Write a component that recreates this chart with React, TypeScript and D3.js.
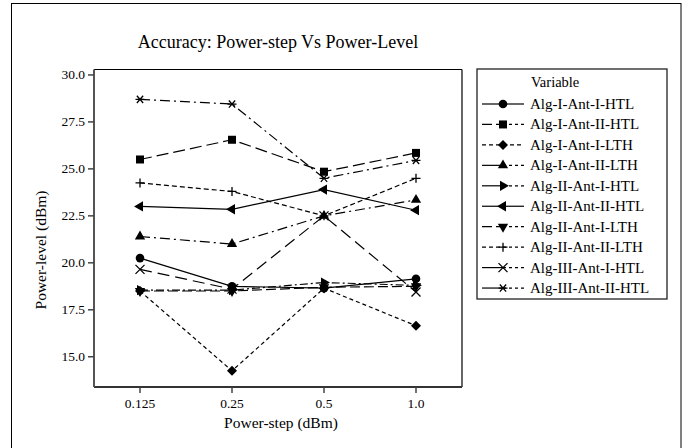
import { useEffect, useRef } from "react";
import * as d3 from "d3";

// x categories (power step) and y ticks
const steps = ["0.125", "0.25", "0.5", "1.0"];
const yTicks = [15, 17.5, 20, 22.5, 25, 27.5, 30];

const seriesNames = [
  "Alg-I-Ant-I-HTL",
  "Alg-I-Ant-II-HTL",
  "Alg-I-Ant-I-LTH",
  "Alg-I-Ant-II-LTH",
  "Alg-II-Ant-I-HTL",
  "Alg-II-Ant-II-HTL",
  "Alg-II-Ant-I-LTH",
  "Alg-II-Ant-II-LTH",
  "Alg-III-Ant-I-HTL",
  "Alg-III-Ant-II-HTL",
];

// values, one per step
const algIAntIHTL = [20.25, 18.75, 18.65, 19.15];
const algIAntIIHTL = [25.5, 26.55, 24.85, 25.85];
const algIAntILTH = [18.5, 14.25, 18.65, 16.65];
const algIAntIILTH = [21.4, 21.0, 22.5, 23.35];
const algIIAntIHTL = [18.55, 18.55, 18.95, 18.8];
const algIIAntIIHTL = [23.0, 22.85, 23.9, 22.8];
const algIIAntILTH = [18.5, 18.5, 18.7, 18.75];
const algIIAntIILTH = [24.25, 23.8, 22.5, 24.5];
const algIIIAntIHTL = [19.65, 18.6, 22.5, 18.45];
const algIIIAntIIHTL = [28.7, 28.45, 24.5, 25.45];

const seriesValues = [
  algIAntIHTL,
  algIAntIIHTL,
  algIAntILTH,
  algIAntIILTH,
  algIIAntIHTL,
  algIIAntIIHTL,
  algIIAntILTH,
  algIIAntIILTH,
  algIIIAntIHTL,
  algIIIAntIIHTL,
];

type Mk = "circle" | "square" | "diamond" | "tUp" | "tRight" | "tLeft" | "tDown" | "plus" | "x" | "star";
const markers: Mk[] = ["circle", "square", "diamond", "tUp", "tRight", "tLeft", "tDown", "plus", "x", "star"];

// plot line dash per series
const dashes = ["", "12,5", "4,3", "10,4,2,4", "8,3,2,3", "", "10,4", "5,3", "12,6", "10,4,2,4"];
// legend sample: left half / right half
const legLeft = ["", "10,4", "4,3", "", "", "", "10,4", "4,3", "", ""];
const legRight = ["", "3,3", "4,3", "3,3", "3,3", "", "3,3", "3,3", "3,3", "3,3"];

const FONT = "'Liberation Serif', 'Times New Roman', serif";

function drawMarker(g: d3.Selection<SVGGElement, unknown, null, undefined>, kind: Mk, x: number, y: number) {
  const tri = d3.symbol().type(d3.symbolTriangle).size(46)() as string;
  const t = `translate(${x},${y})`;
  if (kind === "circle") {
    g.append("circle").attr("cx", x).attr("cy", y).attr("r", 4.3).attr("fill", "#000");
  } else if (kind === "square") {
    g.append("rect").attr("x", x - 4).attr("y", y - 4).attr("width", 8).attr("height", 8).attr("fill", "#000");
  } else if (kind === "diamond") {
    g.append("path").attr("d", "M0,-5L5,0L0,5L-5,0Z").attr("transform", t).attr("fill", "#000");
  } else if (kind === "tUp" || kind === "tRight" || kind === "tLeft" || kind === "tDown") {
    const rot = { tUp: 0, tRight: 90, tDown: 180, tLeft: 270 }[kind];
    g.append("path").attr("d", tri).attr("transform", `${t} rotate(${rot})`).attr("fill", "#000");
  } else {
    const r = 4.5;
    let d = "";
    if (kind === "plus") d = `M${-r},0H${r}M0,${-r}V${r}`;
    else if (kind === "x") d = `M${-r},${-r}L${r},${r}M${-r},${r}L${r},${-r}`;
    else d = `M${-r},0H${r}M${-r * 0.7},${-r * 0.8}L${r * 0.7},${r * 0.8}M${-r * 0.7},${r * 0.8}L${r * 0.7},${-r * 0.8}`;
    g.append("path").attr("d", d).attr("transform", t).attr("stroke", "#000").attr("stroke-width", 1.3).attr("fill", "none");
  }
}

export default function App() {
  const ref = useRef<SVGSVGElement | null>(null);

  useEffect(() => {
    if (!ref.current) return;
    const svg = d3.select(ref.current);
    svg.selectAll("*").remove();

    const W = 686;
    const H = 448;
    const left = 94, right = 462, top = 69.5, bottom = 387;

    const x = d3.scalePoint<string>().domain(steps).range([left, right]).padding(0.5);
    const y = d3.scaleLinear().domain([13.39, 30.29]).range([bottom, top]);

    svg.append("rect").attr("width", W).attr("height", H).attr("fill", "#fff");
    // outer border (bottom edge falls off the page)
    svg.append("rect").attr("x", 11.5).attr("y", 3.5).attr("width", 669.5).attr("height", 450)
      .attr("fill", "none").attr("stroke", "#000").attr("stroke-width", 1);

    // title
    svg.append("text").attr("x", (left + right) / 2).attr("y", 48).attr("text-anchor", "middle")
      .style("font-family", FONT).style("font-size", "18px").text("Accuracy: Power-step Vs Power-Level");

    const g = svg.append("g");

    // frame
    g.append("line").attr("x1", left).attr("x2", right).attr("y1", top).attr("y2", top).attr("stroke", "#000").attr("stroke-width", 1.2);
    g.append("line").attr("x1", right).attr("x2", right).attr("y1", top).attr("y2", bottom).attr("stroke", "#000").attr("stroke-width", 1.2);
    g.append("line").attr("x1", left).attr("x2", right).attr("y1", bottom).attr("y2", bottom).attr("stroke", "#333").attr("stroke-width", 1.8);
    g.append("line").attr("x1", left).attr("x2", left).attr("y1", top).attr("y2", bottom).attr("stroke", "#555").attr("stroke-width", 2);

    // y ticks
    yTicks.forEach((v) => {
      g.append("line").attr("x1", left - 6).attr("x2", left).attr("y1", y(v)).attr("y2", y(v)).attr("stroke", "#444").attr("stroke-width", 1.5);
      g.append("text").attr("x", left - 9).attr("y", y(v) + 4.5).attr("text-anchor", "end")
        .style("font-family", FONT).style("font-size", "13.5px").text(v.toFixed(1));
    });
    // x ticks
    steps.forEach((s) => {
      const px = x(s)!;
      g.append("line").attr("x1", px).attr("x2", px).attr("y1", bottom).attr("y2", bottom + 6).attr("stroke", "#444").attr("stroke-width", 1.5);
      g.append("text").attr("x", px).attr("y", bottom + 21).attr("text-anchor", "middle")
        .style("font-family", FONT).style("font-size", "13.5px").text(s);
    });

    // axis labels
    g.append("text").attr("x", 281).attr("y", 428).attr("text-anchor", "middle")
      .style("font-family", FONT).style("font-size", "15.5px").text("Power-step (dBm)");
    g.append("text").attr("transform", `translate(46,250) rotate(-90)`).attr("text-anchor", "middle")
      .style("font-family", FONT).style("font-size", "15.5px").text("Power-level (dBm)");

    // lines
    const line = d3.line<number>().x((_, i) => x(steps[i])!).y((d) => y(d));
    seriesValues.forEach((vals, i) => {
      g.append("path").attr("d", line(vals) as string).attr("fill", "none").attr("stroke", "#000")
        .attr("stroke-width", 1.2).attr("stroke-dasharray", dashes[i] || null);
    });
    seriesValues.forEach((vals, i) => {
      vals.forEach((v, j) => drawMarker(g as any, markers[i], x(steps[j])!, y(v)));
    });

    // legend
    const lg = svg.append("g");
    lg.append("rect").attr("x", 477).attr("y", 69).attr("width", 190).attr("height", 230)
      .attr("fill", "#fff").attr("stroke", "#222").attr("stroke-width", 1.3);
    lg.append("text").attr("x", 531).attr("y", 87).style("font-family", FONT).style("font-size", "14.5px").text("Variable");
    seriesNames.forEach((name, i) => {
      const cy = 104 + i * 20.45;
      lg.append("line").attr("x1", 482).attr("x2", 503).attr("y1", cy).attr("y2", cy)
        .attr("stroke", "#000").attr("stroke-width", 1.2).attr("stroke-dasharray", legLeft[i] || null);
      lg.append("line").attr("x1", 503).attr("x2", 524).attr("y1", cy).attr("y2", cy)
        .attr("stroke", "#000").attr("stroke-width", 1.2).attr("stroke-dasharray", legRight[i] || null);
      drawMarker(lg as any, markers[i], 503, cy);
      lg.append("text").attr("x", 530).attr("y", cy + 5).style("font-family", FONT).style("font-size", "15px").text(name);
    });
  }, []);

  return (
    <svg
      ref={ref}
      width={686}
      height={448}
      style={{ position: "absolute", left: 0, top: 0, display: "block" }}
    />
  );
}
